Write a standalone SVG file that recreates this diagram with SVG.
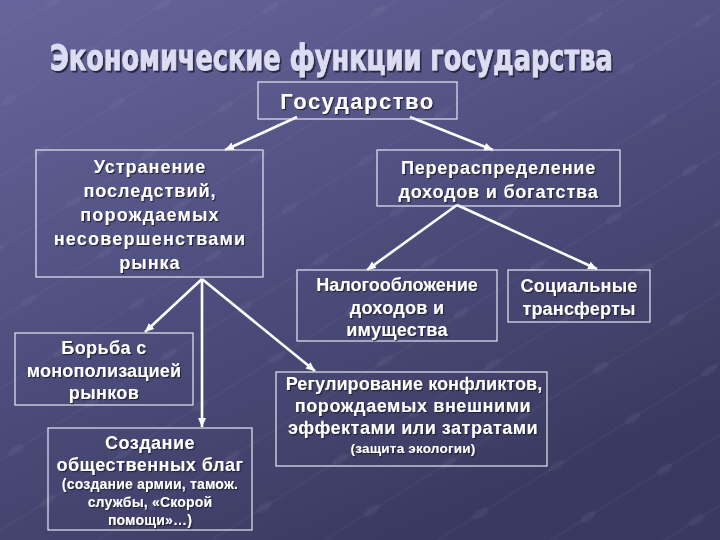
<svg xmlns="http://www.w3.org/2000/svg" width="720" height="540" viewBox="0 0 720 540">
<defs>
<linearGradient id="bg" x1="0" y1="0" x2="0.55" y2="1">
<stop offset="0" stop-color="#66669c"/>
<stop offset="0.5" stop-color="#4f4f80"/>
<stop offset="1" stop-color="#3a3a60"/>
</linearGradient>
<pattern id="tex" width="90" height="60" patternUnits="userSpaceOnUse" patternTransform="rotate(-32)">
<line x1="0" y1="30" x2="90" y2="30" stroke="#8a8ab8" stroke-opacity="0.14" stroke-width="1"/>
<ellipse cx="45" cy="30" rx="9" ry="4" fill="#8a8ab8" fill-opacity="0.1"/>
</pattern>
<filter id="sh" x="-5%" y="-20%" width="110%" height="140%">
<feDropShadow dx="1.2" dy="1.2" stdDeviation="0.6" flood-color="#1c1c34" flood-opacity="0.9"/>
</filter>
<filter id="tsh" x="-5%" y="-20%" width="110%" height="140%">
<feDropShadow dx="2" dy="2" stdDeviation="0.5" flood-color="#25253f" flood-opacity="1"/>
</filter>
<marker id="ah" markerUnits="userSpaceOnUse" markerWidth="10" markerHeight="10" refX="9" refY="4" orient="auto">
<path d="M0,0 L9,4 L0,8 Z" fill="#ffffff"/>
</marker>
<style>
.box{fill:none;stroke:#e6e6f4;stroke-width:1.2}
.t{font-family:"Liberation Sans",Arial,sans-serif;font-weight:bold;font-size:18px;fill:#ffffff;text-anchor:middle;letter-spacing:0.8px;filter:url(#sh)}
.s{font-size:14px;letter-spacing:0.2px}
.c line{stroke:#ffffff;stroke-width:2.6;marker-end:url(#ah)}
.title{font-family:"DejaVu Sans Condensed","DejaVu Sans",sans-serif;font-weight:bold;font-size:36px;fill:#dcdcf2;stroke:#dcdcf2;stroke-width:0.8;filter:url(#tsh)}
</style>
</defs>
<rect width="720" height="540" fill="url(#bg)"/>
<rect width="720" height="540" fill="url(#tex)"/>
<g id="title">
<text class="title" x="0" y="0" transform="translate(50,70) scale(0.79,1)">Экономические функции государства</text>
</g>
<g class="c" id="connectors">
<line x1="297" y1="117" x2="225" y2="150"/>
<line x1="410" y1="117" x2="493" y2="150"/>
<line x1="202" y1="279" x2="145" y2="332"/>
<line x1="202" y1="279" x2="202" y2="427"/>
<line x1="202" y1="279" x2="315" y2="371"/>
<line x1="457" y1="205" x2="367" y2="270"/>
<line x1="457" y1="205" x2="597" y2="269"/>
</g>
<g id="gosudarstvo">
<rect class="box" x="258" y="82" width="199" height="37"/>
<text class="t" x="357.5" y="109" style="font-size:22px;letter-spacing:1.5px">Государство</text>
</g>
<g id="ustranenie">
<rect class="box" x="36" y="150" width="227" height="127"/>
<text class="t" x="150" y="173" style="letter-spacing:1px">Устранение</text>
<text class="t" x="150" y="197" style="letter-spacing:1px">последствий,</text>
<text class="t" x="150" y="221" style="letter-spacing:1.2px">порождаемых</text>
<text class="t" x="150" y="245" style="letter-spacing:1.2px">несовершенствами</text>
<text class="t" x="150" y="269" style="letter-spacing:1px">рынка</text>
</g>
<g id="pereraspredelenie">
<rect class="box" x="377" y="150" width="243" height="56"/>
<text class="t" x="498.5" y="174">Перераспределение</text>
<text class="t" x="498.5" y="198">доходов и богатства</text>
</g>
<g id="nalogooblozhenie">
<rect class="box" x="297" y="270" width="200" height="71"/>
<text class="t" x="397" y="291" style="letter-spacing:0">Налогообложение</text>
<text class="t" x="397" y="314" style="letter-spacing:0.3px">доходов и</text>
<text class="t" x="397" y="336" style="letter-spacing:0.3px">имущества</text>
</g>
<g id="socialnye">
<rect class="box" x="508" y="270" width="142" height="52"/>
<text class="t" x="579" y="292" style="letter-spacing:0.2px">Социальные</text>
<text class="t" x="579" y="315" style="letter-spacing:0.2px">трансферты</text>
</g>
<g id="borba">
<rect class="box" x="15" y="333" width="178" height="72"/>
<text class="t" x="104" y="354" style="letter-spacing:0.4px">Борьба с</text>
<text class="t" x="104" y="377" style="letter-spacing:0.2px">монополизацией</text>
<text class="t" x="104" y="399" style="letter-spacing:0.4px">рынков</text>
</g>
<g id="sozdanie">
<rect class="box" x="48" y="428" width="204" height="102"/>
<text class="t" x="150" y="449" style="letter-spacing:0.5px">Создание</text>
<text class="t" x="150" y="471" style="letter-spacing:0.5px">общественных благ</text>
<text class="t s" x="150" y="489">(создание армии, тамож.</text>
<text class="t s" x="150" y="507">службы, «Скорой</text>
<text class="t s" x="150" y="525">помощи»…)</text>
</g>
<g id="regulirovanie">
<rect class="box" x="276" y="372" width="271" height="94"/>
<text class="t" x="414" y="390" style="letter-spacing:0.1px">Регулирование конфликтов,</text>
<text class="t" x="413" y="412" style="letter-spacing:0.6px">порождаемых внешними</text>
<text class="t" x="413" y="434" style="letter-spacing:0.5px">эффектами или затратами</text>
<text class="t s" x="413" y="453" style="font-size:13.5px">(защита экологии)</text>
</g>
</svg>
